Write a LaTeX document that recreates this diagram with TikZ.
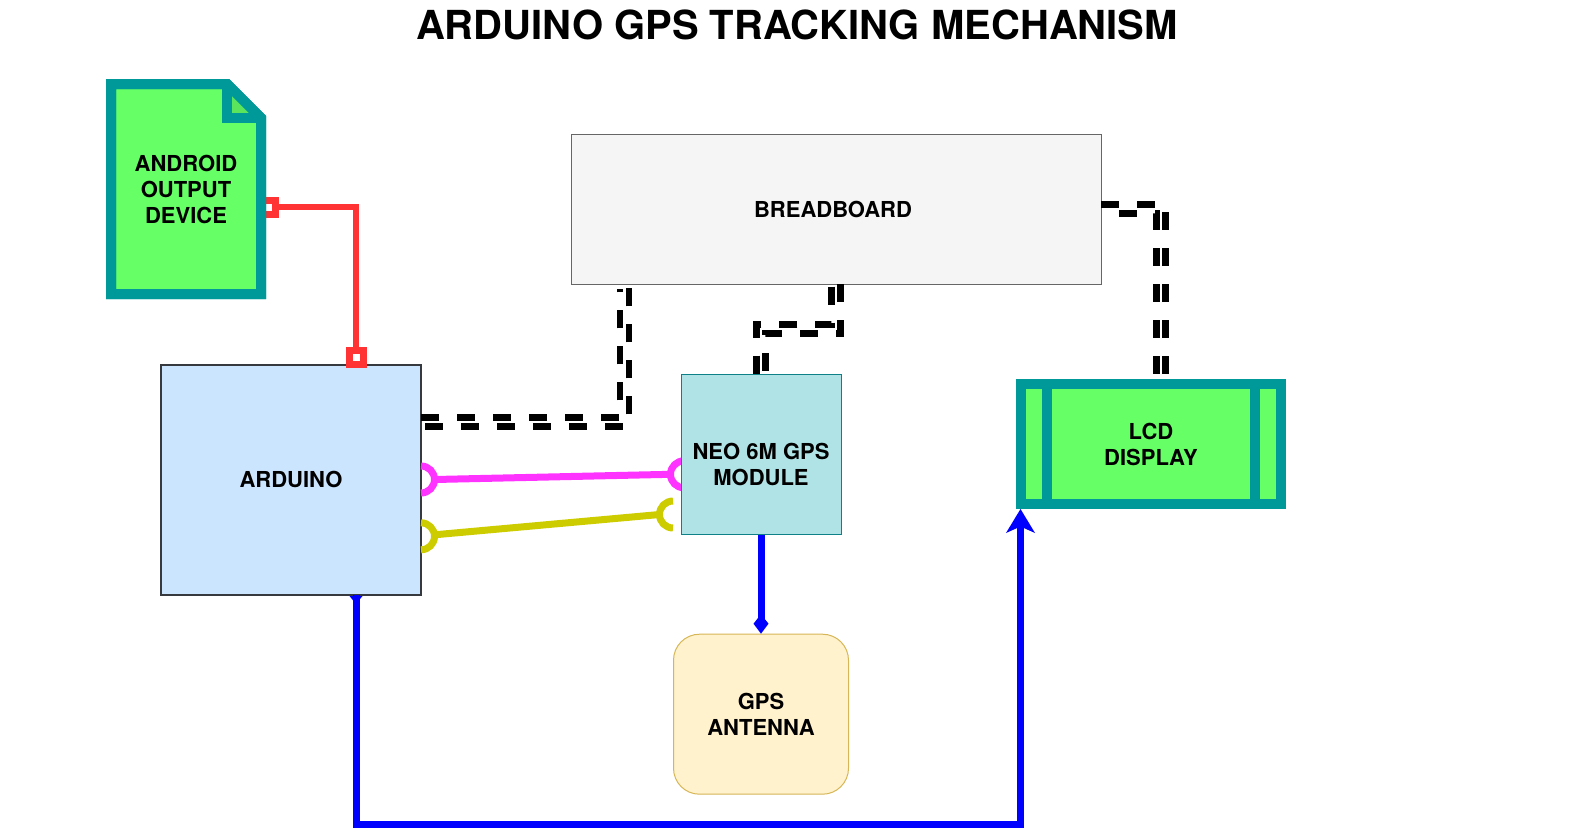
\documentclass[tikz,border=0pt]{standalone}
\usepackage{fontspec}
\setmainfont{TeX Gyre Heros}
\usetikzlibrary{calc}
\definecolor{teal1}{HTML}{009999}
\definecolor{green1}{HTML}{66FF66}
\definecolor{green2}{HTML}{5CE55C}
\definecolor{ardfill}{HTML}{CCE5FF}
\definecolor{ardline}{HTML}{36393D}
\definecolor{bbfill}{HTML}{F5F5F5}
\definecolor{bbline}{HTML}{666666}
\definecolor{neofill}{HTML}{B0E3E6}
\definecolor{neoline}{HTML}{0E8088}
\definecolor{antfill}{HTML}{FFF2CC}
\definecolor{antline}{HTML}{D6B656}
\definecolor{redl}{HTML}{FF3333}
\definecolor{magl}{HTML}{FF33FF}
\definecolor{yell}{HTML}{CCCC00}
\definecolor{bluel}{HTML}{0000FF}
\tikzset{
  lbl/.style={font=\fontsize{22}{26}\selectfont\bfseries,align=center,text=black,inner sep=0pt},
  track/.style={draw=black,line width=6.5pt,dash pattern=on 18pt off 18pt,line join=miter},
  redline/.style={draw=redl,line width=6.5pt,line join=miter},
  redsquare/.style={draw=redl,fill=white,line width=7pt,line join=miter},
  bluewire/.style={draw=bluel,line width=7pt,line join=miter},
  magline/.style={draw=magl,line width=7pt},
  yelline/.style={draw=yell,line width=7pt},
  greenbox/.style={draw=teal1,fill=green1,line width=10pt,line join=miter},
}
\begin{document}
\begin{tikzpicture}[x=1pt,y=-1pt]
\useasboundingbox (0,0) rectangle (1592,839);
\node[font=\fontsize{40}{48}\selectfont\bfseries,inner sep=0pt] (title) at (797,25) {ARDUINO GPS TRACKING MECHANISM};
% node frames
\node[draw=ardline,fill=ardfill,line width=2pt,minimum width=260pt,minimum height=230pt,inner sep=0pt] (ard) at (291,480) {};
\node[draw=bbline,fill=bbfill,line width=1pt,minimum width=530pt,minimum height=150pt,inner sep=0pt] (bb) at (836,209.5) {};
\coordinate (docE) at (261,189);
\coordinate (ardT) at (356,364.5);
% red connector
\draw[redline] ($(docE)+(0,18)$) -| (ard.north -| ardT);
\draw[redsquare] (261,200) rectangle (275,214);
\draw[redsquare] (349,350.3) rectangle (363,364.3);
% android document
\path[greenbox] (111,84) -- (227,84) -- (261,118) -- (261,294) -- (111,294) -- cycle;
\fill[green2] (227,84) -- (227,118) -- (261,118) -- cycle;
\draw[teal1,line width=10pt,line join=miter] (111,84) -- (227,84) -- (261,118) -- (261,294) -- (111,294) -- cycle;
\draw[teal1,line width=10pt,line join=miter] (227,84) -- (227,118) -- (261,118);
\node[lbl,minimum width=150pt] (doc) at (186,189) {ANDROID\\OUTPUT\\DEVICE};
% half circles on the NEO side, below the NEO box
\coordinate (mA) at (421,479.5);
\coordinate (mB) at (684,474.3);
\coordinate (yA) at (421,536.3);
\coordinate (yB) at (673,514.5);
\draw[magline] ($(mB)+(0,-13.5)$) arc[start angle=-90,delta angle=-180,radius=13.5];
\draw[magline] ($(mA)+(13.5,0)$) -- ($(mB)+(-13.5,0)$);
\draw[yelline] ($(yB)+(0,-13.5)$) arc[start angle=-90,delta angle=-180,radius=13.5];
\draw[yelline] ($(yA)+(13.5,-1.5)$) -- ($(yB)+(-13.5,0)$);
\draw[magline] ($(mA)+(0,-13.5)$) arc[start angle=-90,delta angle=180,radius=13.5];
\draw[yelline] ($(yA)+(0,-13.5)$) arc[start angle=-90,delta angle=180,radius=13.5];
% other boxes
\node[draw=neoline,fill=neofill,line width=1pt,minimum width=160pt,minimum height=160pt,inner sep=0pt] (neo) at (761,454.3) {};
\node[draw=antline,fill=antfill,line width=1pt,rounded corners=26pt,minimum width=175pt,minimum height=160pt,inner sep=0pt] (ant) at (761,714.2) {};
\path[greenbox] (1021,384) rectangle (1281,504);
\draw[teal1,line width=10pt] (1047,384) -- (1047,504) (1255,384) -- (1255,504);
\node[lbl,minimum width=200pt] (lcd) at (1151,444.5) {LCD\\DISPLAY};
% labels
\node[lbl] (ardT2) at (291,479) {ARDUINO};
\node[lbl] (bbT) at (833,209.5) {BREADBOARD};
\node[lbl] (neoT) at (761,464.5) {NEO 6M GPS\\MODULE};
\node[lbl] (antT) at (761,714.5) {GPS\\ANTENNA};
% blue connectors
\draw[bluewire] (neo.south) -- ($(ant.north)+(0,-9)$);
\fill[bluel] (ant.north) -- ++(-7.5,-10) -- ++(7.5,-9.5) -- ++(7.5,9.5) -- cycle;
\draw[bluewire] (356,595) -- (356,824.7) -- (1020.5,824.7) -- (1020.5,525);
\fill[bluel] (1020.5,509) -- (1035,533) -- (1020.5,526.5) -- (1006,533) -- cycle;
\fill[bluel] (356,604) -- (349.5,596) -- (362.5,596) -- cycle;
% dashed double connectors
\draw[track] (421,417.3) -- (620,417.3) -- (620,289);
\draw[track,dash phase=32pt] (421,426.3) -- (629,426.3) -- (629,288);
\draw[track] (840.5,284.3) -- (840.5,333.3) -- (765.5,333.3) -- (765.5,374);
\draw[track] (831.7,286.7) -- (831.7,324.3) -- (756.7,324.3) -- (756.7,374);
\draw[track] (1101,204.7) -- (1165.7,204.7) -- (1165.7,374);
\draw[track,dash phase=18pt] (1101,213.7) -- (1156.3,213.7) -- (1156.3,374);
\end{tikzpicture}
\end{document}
